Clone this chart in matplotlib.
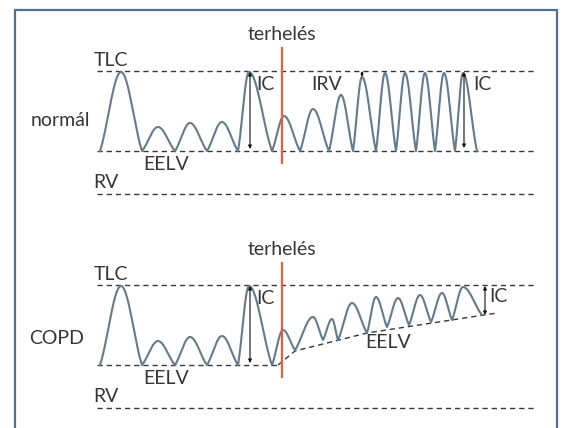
import numpy as np
import matplotlib
matplotlib.use("Agg")
import matplotlib.pyplot as plt
from matplotlib.patches import Rectangle

# lung volume levels, arbitrary units (RV = 0)
TLC, EELV, RV = 123, 43, 0
LEVEL_X = [97, 534]
LOAD_X = 282

# normal subject: troughs and peaks of each breath (time, volume)
N_TROUGH_X = [100, 142, 175, 207, 238, 272, 300, 329, 353, 376, 396, 416, 435, 455, 477]
N_TROUGH_V = [43, 43, 43, 43, 43, 43, 43, 43, 43, 43, 43, 43, 43, 43, 43]
N_PEAK_X = [121, 158, 190, 222, 249, 284, 313, 341, 362, 385, 405, 425, 444, 463]
N_PEAK_V = [122, 67, 71, 72, 122, 78, 85, 99, 117, 121, 121, 121, 121, 121]

# COPD: EELV drifts up during exercise (dynamic hyperinflation)
C_TROUGH_X = [100, 142, 175, 207, 238, 272, 295, 323, 338, 367, 387, 409, 431, 452, 482]
C_TROUGH_V = [43, 43, 43, 43, 43, 43, 58, 68, 68, 75, 81, 83, 86, 88, 93]
C_PEAK_X = [121, 158, 190, 222, 249, 283, 313, 332, 352, 376, 398, 420, 442, 463]
C_PEAK_V = [122, 67, 71, 72, 122, 78, 91, 89, 105, 111, 110, 113, 115, 121]
C_EELV_X = [278, 295, 367, 497]
C_EELV_V = [43, 57, 75, 95]

WAVE = "#647b8d"
RED = "#e8613f"
TXT = "#363636"
FRAME = "#52708e"
FS = 14
plt.rcParams["font.family"] = ["Lato", "DejaVu Sans"]


def half(t):
    # rounded at the peak, slightly pointed at the trough
    return 0.5 * np.sin(np.pi / 2 * t) + 0.25 * (1 - np.cos(np.pi * t))


def breaths(tx, tv, px, pv):
    xs, ys = [], []
    for i in range(len(px)):
        a = np.linspace(tx[i], px[i], 30)
        b = np.linspace(px[i], tx[i + 1], 30)
        xs += [a, b]
        ys += [tv[i] + (pv[i] - tv[i]) * half((a - tx[i]) / (px[i] - tx[i])),
               tv[i + 1] + (pv[i] - tv[i + 1]) * half((tx[i + 1] - b) / (tx[i + 1] - px[i]))]
    return np.concatenate(xs), np.concatenate(ys)


def dashed(ax, x, y):
    ax.plot(x, y, color="#383838", lw=1.0, ls=(0, (3.8, 2.8)), zorder=1)


def ic_arrow(ax, x, y0, y1, ms=5):
    ax.annotate("", xy=(x, y1), xytext=(x, y0),
                arrowprops=dict(arrowstyle="<|-|>", color="#111111", lw=0.8,
                                mutation_scale=ms, shrinkA=0, shrinkB=0), zorder=4)


def label(ax, x, y, s, ha="center"):
    ax.text(x, y, s, ha=ha, va="center", fontsize=FS, color=TXT)


fig = plt.figure(figsize=(5.63, 4.28), dpi=100)
top = fig.add_axes([0, 0.5, 1, 0.5])
bot = fig.add_axes([0, 0, 1, 0.5])
for ax in (top, bot):
    ax.set_xlim(0, 563)
    ax.set_ylim(-20, 194)
    ax.axis("off")

# --- normal ---
dashed(top, LEVEL_X, [TLC, TLC])
dashed(top, LEVEL_X, [EELV, EELV])
dashed(top, LEVEL_X, [RV, RV])
x, y = breaths(N_TROUGH_X, N_TROUGH_V, N_PEAK_X, N_PEAK_V)
top.plot(x, y, color=WAVE, lw=1.5, zorder=2)
top.plot([LOAD_X, LOAD_X], [31, 146], color=RED, lw=1.6, zorder=3)
ic_arrow(top, 250, EELV + 2, TLC - 1)
ic_arrow(top, 464, EELV + 3, TLC - 1)
ic_arrow(top, 362, 117, TLC, ms=3)
label(top, LOAD_X, 160, "terhelés")
label(top, 111, 134, "TLC")
label(top, 60, 73, "normál")
label(top, 166, 30, "EELV")
label(top, 106, 11, "RV")
label(top, 256, 109, "IC", ha="left")
label(top, 311, 109, "IRV", ha="left")
label(top, 473, 109, "IC", ha="left")

# --- COPD ---
dashed(bot, LEVEL_X, [TLC, TLC])
dashed(bot, [LEVEL_X[0], C_EELV_X[0]], [EELV, EELV])
dashed(bot, C_EELV_X, C_EELV_V)
dashed(bot, LEVEL_X, [RV, RV])
x, y = breaths(C_TROUGH_X, C_TROUGH_V, C_PEAK_X, C_PEAK_V)
bot.plot(x, y, color=WAVE, lw=1.5, zorder=2)
bot.plot([LOAD_X, LOAD_X], [31, 145], color=RED, lw=1.6, zorder=3)
ic_arrow(bot, 250, EELV + 2, TLC - 1)
ic_arrow(bot, 485, C_EELV_V[-1] - 2, TLC - 1)
label(bot, LOAD_X, 159, "terhelés")
label(bot, 111, 133, "TLC")
label(bot, 57, 70, "COPD")
label(bot, 166, 30, "EELV")
label(bot, 106, 11, "RV")
label(bot, 256, 110, "IC", ha="left")
label(bot, 388, 65, "EELV")
label(bot, 489, 111, "IC", ha="left")

# frame, open at the bottom edge of the picture
fig.patches.append(Rectangle((15 / 563, -0.1), 542 / 563, 1.1 - 10 / 428,
                             transform=fig.transFigure, fill=False,
                             edgecolor=FRAME, lw=1.6))

fig.savefig("out.png", dpi=100, facecolor="white")
